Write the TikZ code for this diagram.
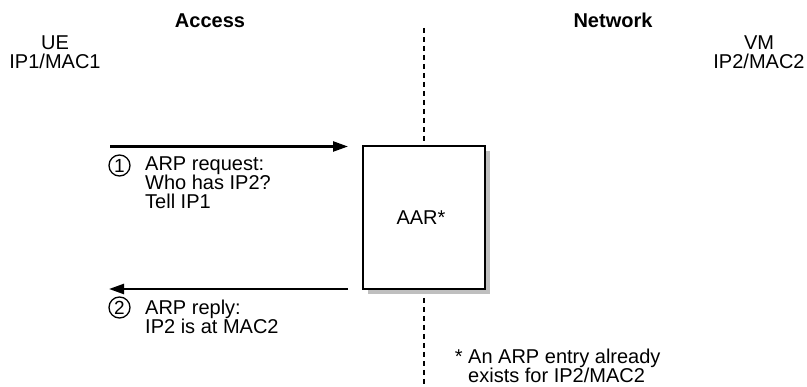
\documentclass[tikz,border=0pt]{standalone}
\usepackage{fontspec}
\setmainfont{Liberation Sans}
\usetikzlibrary{arrows.meta}
\begin{document}
\begin{tikzpicture}[x=1pt,y=-1pt,
  lbl/.style={inner sep=0pt, font=\fontsize{20}{19}\selectfont},
  hdr/.style={inner sep=0pt, font=\fontsize{20}{19}\selectfont\bfseries, anchor=base},
  msg/.style={line width=2.4pt, -{Triangle[length=15pt,width=10pt]}},
  num/.style={circle, draw, line width=1.3pt, minimum size=21pt, inner sep=0pt, font=\fontsize{19}{19}\selectfont},
  aarbox/.style={draw, line width=2pt, fill=white, minimum width=122pt, minimum height=143pt, inner sep=0pt}
]
\useasboundingbox (0,0) rectangle (807,387);
% dashed divider
\coordinate (dtop) at (424,28);
\coordinate (dbot) at (424,387);
\draw[line width=1.3pt, dash pattern=on 5pt off 4pt] (dtop) -- (dbot);
% headers
\node[hdr] (access) at (210,28) {Access};
\node[hdr] (network) at (613,28) {Network};
% multi-line nodes: base anchor is the last line's baseline
\node[lbl, align=center, anchor=base] (ue) at (55,69) {UE\\IP1/MAC1};
\node[lbl, align=center, anchor=base] (vm) at (759,69) {VM\\IP2/MAC2};
% box with shadow
\fill[black!25] (368,151) rectangle (490,294);
\node[aarbox] (aar) at (424,217.5) {};
\node[lbl, anchor=base] (aartxt) at (421,225) {AAR*};
% arrows
\coordinate (a1s) at (110,146.5);
\coordinate (a1e) at (348,146.5);
\coordinate (a2s) at (348,289);
\coordinate (a2e) at (109,289);
\draw[msg] (a1s) -- (a1e);
\draw[msg] (a2s) -- (a2e);
% labels
\node[num] (n1) at (119.5,165.5) {1};
\node[lbl, align=left, anchor=base west] (t1) at (145,209) {ARP request:\\Who has IP2?\\Tell IP1};
\node[num] (n2) at (119.5,307.5) {2};
\node[lbl, align=left, anchor=base west] (t2) at (145,334) {ARP reply:\\IP2 is at MAC2};
\node[lbl, align=left, anchor=base west] (note) at (468,383) {\makebox[0pt][r]{*\ }An ARP entry already\\exists for IP2/MAC2};
\end{tikzpicture}
\end{document}
